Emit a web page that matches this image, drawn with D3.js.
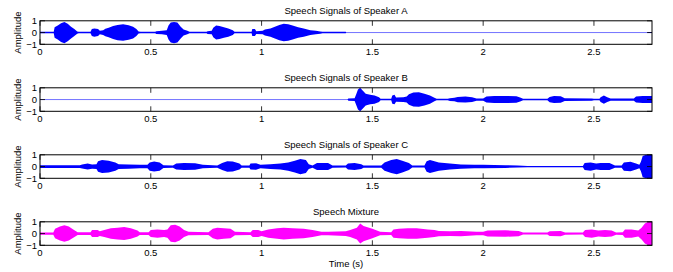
<!DOCTYPE html>
<html>
<head>
<meta charset="utf-8">
<script src="https://cdn.jsdelivr.net/npm/d3@7"></script>
<style>
  body { margin: 0; background: #fff; }
  text { font-family: "Liberation Sans", Arial, sans-serif; font-size: 9.5px; fill: #000; }
</style>
</head>
<body>
<svg id="chart" width="673" height="272"></svg>
<script>
// envelope of each signal, [time (s), amplitude]
const speakerA = [[0,0.06],[0.062,0.06],[0.066,0.45],[0.08,0.6],[0.095,0.8],[0.11,0.9],[0.125,0.75],[0.14,0.5],[0.155,0.3],[0.168,0.1],[0.175,0.06],
  [0.228,0.06],[0.234,0.3],[0.245,0.35],[0.262,0.3],[0.27,0.15],[0.285,0.2],[0.295,0.32],[0.31,0.4],[0.33,0.55],[0.35,0.65],[0.375,0.7],[0.4,0.62],[0.42,0.5],[0.435,0.3],[0.445,0.08],[0.455,0.06],
  [0.52,0.06],[0.525,0.12],[0.55,0.15],[0.572,0.2],[0.58,0.6],[0.59,0.85],[0.605,0.9],[0.62,0.85],[0.635,0.5],[0.648,0.25],[0.665,0.15],[0.675,0.06],
  [0.752,0.06],[0.756,0.12],[0.775,0.15],[0.782,0.4],[0.795,0.6],[0.81,0.55],[0.83,0.45],[0.85,0.35],[0.87,0.2],[0.878,0.06],
  [0.955,0.06],[0.958,0.3],[0.97,0.3],[0.976,0.12],[1.005,0.15],[1.015,0.25],[1.04,0.35],[1.06,0.5],[1.08,0.65],[1.1,0.75],[1.12,0.7],[1.14,0.6],[1.165,0.45],[1.19,0.35],[1.22,0.2],[1.245,0.15],[1.265,0.1],[1.275,0.06],
  [1.38,0.06],[1.382,0],[2.742,0],[2.745,0.04],[2.762,0.04]];

const speakerB = [[0,0],[1.388,0],[1.39,0.06],[1.392,0.1],[1.42,0.12],[1.428,0.5],[1.435,0.85],[1.445,1.0],[1.455,0.8],[1.47,0.5],[1.49,0.4],[1.51,0.35],[1.53,0.2],[1.537,0.06],
  [1.585,0.06],[1.59,0.35],[1.6,0.4],[1.607,0.18],[1.64,0.2],[1.655,0.25],[1.665,0.45],[1.685,0.6],[1.71,0.62],[1.735,0.5],[1.76,0.35],[1.78,0.15],[1.79,0.07],
  [1.84,0.07],[1.85,0.12],[1.87,0.15],[1.885,0.22],[1.92,0.25],[1.95,0.2],[1.97,0.1],[2.0,0.1],[2.015,0.25],[2.05,0.3],[2.1,0.3],[2.15,0.28],[2.17,0.15],[2.18,0.06],
  [2.29,0.06],[2.3,0.22],[2.32,0.3],[2.35,0.28],[2.368,0.12],[2.49,0.1],[2.5,0.06],[2.525,0.06],[2.53,0.2],[2.545,0.35],[2.56,0.2],[2.575,0.1],[2.68,0.1],[2.69,0.25],[2.72,0.3],[2.762,0.3]];

const speakerC = [[0,0.12],[0.18,0.12],[0.19,0.17],[0.215,0.25],[0.235,0.18],[0.255,0.2],[0.262,0.45],[0.28,0.55],[0.31,0.5],[0.34,0.35],[0.355,0.2],[0.4,0.18],[0.45,0.15],[0.485,0.15],
  [0.495,0.35],[0.515,0.42],[0.54,0.35],[0.557,0.12],[0.6,0.1],[0.615,0.25],[0.65,0.3],[0.7,0.28],[0.735,0.15],[0.8,0.1],[0.822,0.3],[0.845,0.45],[0.87,0.42],[0.9,0.25],[0.91,0.1],
  [0.945,0.1],[0.95,0.25],[0.975,0.28],[0.995,0.15],[1.04,0.2],[1.085,0.25],[1.12,0.35],[1.15,0.5],[1.175,0.65],[1.2,0.55],[1.213,0.2],[1.23,0.1],[1.25,0.3],[1.3,0.3],[1.32,0.1],
  [1.38,0.08],[1.39,0.25],[1.42,0.3],[1.45,0.2],[1.46,0.1],[1.54,0.1],[1.555,0.35],[1.585,0.55],[1.61,0.65],[1.635,0.5],[1.665,0.3],[1.68,0.08],[1.735,0.08],[1.745,0.45],[1.76,0.55],
  [1.8,0.35],[1.85,0.25],[1.9,0.18],[1.96,0.15],[2.0,0.15],[2.1,0.12],[2.155,0.08],[2.2,0.05],[2.45,0.05],[2.458,0.3],[2.485,0.35],[2.51,0.25],[2.53,0.3],[2.57,0.3],[2.595,0.1],
  [2.625,0.1],[2.635,0.35],[2.665,0.4],[2.69,0.25],[2.705,0.15],[2.712,0.4],[2.72,0.9],[2.735,1.0],[2.762,1.0]];

const mixture = [[0,0.1],[0.06,0.1],[0.068,0.4],[0.09,0.6],[0.11,0.7],[0.13,0.6],[0.15,0.35],[0.17,0.12],[0.228,0.12],[0.235,0.3],[0.26,0.3],[0.27,0.2],[0.29,0.3],[0.32,0.45],
  [0.35,0.5],[0.38,0.55],[0.41,0.45],[0.44,0.25],[0.45,0.12],[0.49,0.12],[0.5,0.3],[0.53,0.35],[0.56,0.3],[0.575,0.35],[0.59,0.7],[0.61,0.75],[0.63,0.6],[0.65,0.3],[0.67,0.15],
  [0.76,0.12],[0.78,0.4],[0.8,0.5],[0.83,0.45],[0.86,0.4],[0.88,0.15],[0.95,0.12],[0.96,0.3],[0.985,0.3],[1.0,0.2],[1.03,0.35],[1.07,0.45],[1.1,0.5],[1.14,0.45],[1.19,0.4],
  [1.23,0.3],[1.27,0.15],[1.3,0.15],[1.38,0.2],[1.4,0.3],[1.43,0.5],[1.445,0.85],[1.46,0.65],[1.5,0.4],[1.535,0.15],[1.585,0.12],[1.595,0.35],[1.62,0.4],[1.66,0.45],[1.7,0.45],
  [1.75,0.35],[1.78,0.3],[1.8,0.22],[1.85,0.2],[1.9,0.22],[1.97,0.15],[2.0,0.15],[2.02,0.25],[2.1,0.28],[2.16,0.22],[2.18,0.08],[2.29,0.08],[2.3,0.2],[2.35,0.22],[2.37,0.1],
  [2.45,0.08],[2.46,0.3],[2.49,0.35],[2.52,0.25],[2.55,0.3],[2.58,0.25],[2.6,0.1],[2.63,0.12],[2.64,0.35],[2.67,0.35],[2.7,0.25],[2.715,0.5],[2.73,0.85],[2.745,1.0],[2.762,1.0]];

const titles = ['Speech Signals of Speaker A', 'Speech Signals of Speaker B', 'Speech Signals of Speaker C', 'Speech Mixture'];
const signals = [speakerA, speakerB, speakerC, mixture];
const colors = ['#0000ff', '#0000ff', '#0000ff', '#ff00ff'];
const xTicks = [0, 0.5, 1, 1.5, 2, 2.5];
const yTicks = [-1, 0, 1];
const tMax = 2.762;

const svg = d3.select('#chart');
const left = 40, right = 652;
const top0 = 20.8, step = 67, h = 23.5;
const tick = 5;

const x = d3.scaleLinear().domain([0, tMax]).range([left, right]);

signals.forEach((sig, i) => {
  const y0 = top0 + i * step;
  const y = d3.scaleLinear().domain([-1, 1]).range([y0 + h, y0]);
  const g = svg.append('g');

  // thin zero line (lighter where the signal is silent)
  g.append('line')
    .attr('x1', x(0)).attr('x2', x(tMax))
    .attr('y1', y(0)).attr('y2', y(0))
    .attr('stroke', colors[i]).attr('stroke-opacity', 0.55).attr('stroke-width', 1);

  const area = d3.area()
    .x(d => x(d[0]))
    .y0(d => y(-d[1]))
    .y1(d => y(d[1]));

  g.append('path')
    .datum(sig.filter(d => true))
    .attr('d', area)
    .attr('fill', colors[i]);

  // ticks pointing inward, top and bottom
  xTicks.forEach(t => {
    g.append('line').attr('x1', x(t)).attr('x2', x(t))
      .attr('y1', y0).attr('y2', y0 + tick).attr('stroke', '#000').attr('stroke-width', 0.8);
    g.append('line').attr('x1', x(t)).attr('x2', x(t))
      .attr('y1', y0 + h).attr('y2', y0 + h - tick).attr('stroke', '#000').attr('stroke-width', 0.8);
    g.append('text').attr('x', x(t)).attr('y', y0 + h + 10.5)
      .attr('text-anchor', 'middle').text(t);
  });

  yTicks.forEach(v => {
    g.append('line').attr('x1', left).attr('x2', left + tick)
      .attr('y1', y(v)).attr('y2', y(v)).attr('stroke', '#000').attr('stroke-width', 0.8);
    g.append('line').attr('x1', right).attr('x2', right - tick)
      .attr('y1', y(v)).attr('y2', y(v)).attr('stroke', '#000').attr('stroke-width', 0.8);
    g.append('text').attr('x', left - 3).attr('y', y(v) + 3.4)
      .attr('text-anchor', 'end').text(v === -1 ? '\u22121' : v);
  });

  g.append('rect')
    .attr('x', left).attr('y', y0)
    .attr('width', right - left).attr('height', h)
    .attr('fill', 'none').attr('stroke', '#000').attr('stroke-width', 1);

  g.append('text')
    .attr('x', (left + right) / 2).attr('y', y0 - 7)
    .attr('text-anchor', 'middle').text(titles[i]);

  g.append('text')
    .attr('transform', `translate(21,${y0 + h / 2}) rotate(-90)`)
    .attr('text-anchor', 'middle').text('Amplitude');
});

svg.append('text')
  .attr('x', (left + right) / 2).attr('y', 267)
  .attr('text-anchor', 'middle').text('Time (s)');
</script>
</body>
</html>
